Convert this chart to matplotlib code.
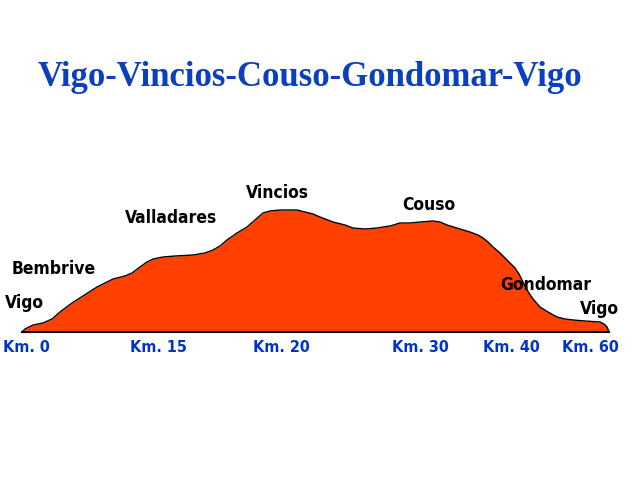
import matplotlib
matplotlib.use("Agg")
import matplotlib.pyplot as plt

# profile outline (pixel-like units, y grows downward)
prof_x = [22, 25, 33, 43, 52, 60, 72, 83, 97, 113, 125, 132, 140, 147, 153, 163, 175,
          193, 205, 213, 220, 227, 237, 247, 255, 263, 270, 280, 297, 305, 313, 320,
          333, 345, 353, 365, 377, 390, 400, 410, 420, 433, 440, 447, 460, 470, 478,
          483, 488, 493, 500, 505, 510, 515, 519, 523, 527, 533, 540, 548, 557, 565, 573,
          585, 600, 604, 607, 609]
prof_y = [332, 329, 325, 323, 319, 312, 303, 296, 287, 279, 276, 273, 267, 262, 259, 257, 256,
          255, 253, 250, 246, 240, 233, 227, 220, 213, 211, 210, 210, 212, 214, 217,
          222, 225, 228, 229, 228, 226, 223, 223, 222, 221, 222, 225, 229, 232, 235,
          238, 242, 247, 253, 258, 263, 268, 274, 282, 290, 299, 307, 312, 317, 319, 320,
          321, 322, 324, 327, 332]
base_y = 332

title = "Vigo-Vincios-Couso-Gondomar-Vigo"

places = ["Vigo", "Bembrive", "Valladares", "Vincios", "Couso", "Gondomar", "Vigo"]
place_x = [5, 12, 125, 246, 402, 500, 580]
place_y = [303, 269, 218, 193, 205, 285, 309]

km_labels = ["Km. 0", "Km. 15", "Km. 20", "Km. 30", "Km. 40", "Km. 60"]
km_x = [3, 130, 253, 392, 483, 562]
km_y = 347

fig = plt.figure(figsize=(6.4, 4.8), dpi=100)
ax = fig.add_axes([0, 0, 1, 1])
ax.set_xlim(0, 640)
ax.set_ylim(480, 0)
ax.axis("off")

ax.fill_between(prof_x, prof_y, base_y, color="#ff4000", linewidth=0)
ax.plot(prof_x, prof_y, color="black", linewidth=1)
ax.plot([prof_x[0], prof_x[-1]], [base_y, base_y], color="black", linewidth=1.5)

ax.text(310, 78, title, ha="center", va="center", color="#0a3fc0",
        fontsize=25, fontweight="bold", family="Liberation Serif")

for name, x, y in zip(places, place_x, place_y):
    ax.text(x, y, name, ha="left", va="center", color="black",
            fontsize=12.5, fontweight="bold", family="DejaVu Sans",
            fontstretch="condensed")

for lab, x in zip(km_labels, km_x):
    ax.text(x, km_y, lab, ha="left", va="center", color="#0033cc",
            fontsize=11.5, fontweight="bold", family="DejaVu Sans",
            fontstretch="condensed")

fig.savefig("out.png", dpi=100)
